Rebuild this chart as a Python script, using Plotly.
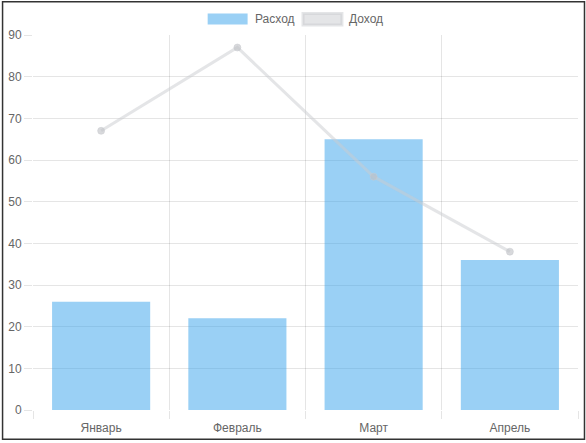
import plotly.graph_objects as go

categories = ["Январь", "Февраль", "Март", "Апрель"]
expenses = [26, 22, 65, 36]
income = [67, 87, 56, 38]
y_ticks = [0, 10, 20, 30, 40, 50, 60, 70, 80, 90]

W, H = 586, 443
L, R, T, B = 32, 8, 35, 31
PW, PH = W - L - R, H - T - B

def px_x(p):
    return (p - L) / PW

def px_y(p):
    return (H - B - p) / PH

blue = "rgba(54,162,235,0.5)"
grey = "rgba(201,203,207,0.5)"
grid = "rgba(0,0,0,0.1)"
font = dict(family="Liberation Sans, Arial, sans-serif", size=12, color="#666")

fig = go.Figure()
fig.add_trace(go.Bar(x=categories, y=expenses, name="Расход",
                     marker=dict(color=blue, line=dict(width=0))))
fig.add_trace(go.Scatter(x=categories, y=income, name="Доход", mode="lines+markers",
                         line=dict(color=grey, width=3),
                         marker=dict(size=7, color="rgba(190,192,196,0.6)",
                                     line=dict(color=grey, width=1))))

shapes = [
    # outer border
    dict(type="rect", xref="paper", yref="paper",
         x0=px_x(1.5), x1=px_x(584.5), y0=px_y(441.5), y1=px_y(1.5),
         line=dict(color="#333", width=1.5), fillcolor="rgba(0,0,0,0)", layer="above"),
    # legend boxes
    dict(type="rect", xref="paper", yref="paper",
         x0=px_x(207), x1=px_x(247), y0=px_y(24.5), y1=px_y(13.5),
         line=dict(width=0), fillcolor=blue),
    dict(type="rect", xref="paper", yref="paper",
         x0=px_x(302.5), x1=px_x(341.5), y0=px_y(25), y1=px_y(13.5),
         line=dict(color=grey, width=3), fillcolor=grey),
]
annotations = [
    dict(text="Расход", xref="paper", yref="paper", x=px_x(252), y=px_y(19),
         xanchor="left", yanchor="middle", showarrow=False, font=font),
    dict(text="Доход", xref="paper", yref="paper", x=px_x(347), y=px_y(19),
         xanchor="left", yanchor="middle", showarrow=False, font=font),
]

fig.update_layout(
    width=W, height=H,
    margin=dict(l=L, r=R, t=T, b=B, pad=0),
    paper_bgcolor="white", plot_bgcolor="white",
    showlegend=False, bargap=0.28, font=font,
    shapes=shapes, annotations=annotations,
    xaxis=dict(type="category", tickson="boundaries", showgrid=True, gridcolor=grid,
               ticks="outside", ticklen=8, tickcolor=grid, showline=False,
               tickfont=font, range=[-0.5, 3.5], ticklabelstandoff=9),
    yaxis=dict(range=[0, 90], tickvals=y_ticks, showgrid=True, gridcolor=grid,
               ticks="outside", ticklen=8, tickcolor=grid, zeroline=False,
               showline=False, tickfont=font),
)

fig.write_html("out.html", config={"displayModeBar": False},
               post_script="document.body.style.margin='0';document.body.style.overflow='hidden';")
